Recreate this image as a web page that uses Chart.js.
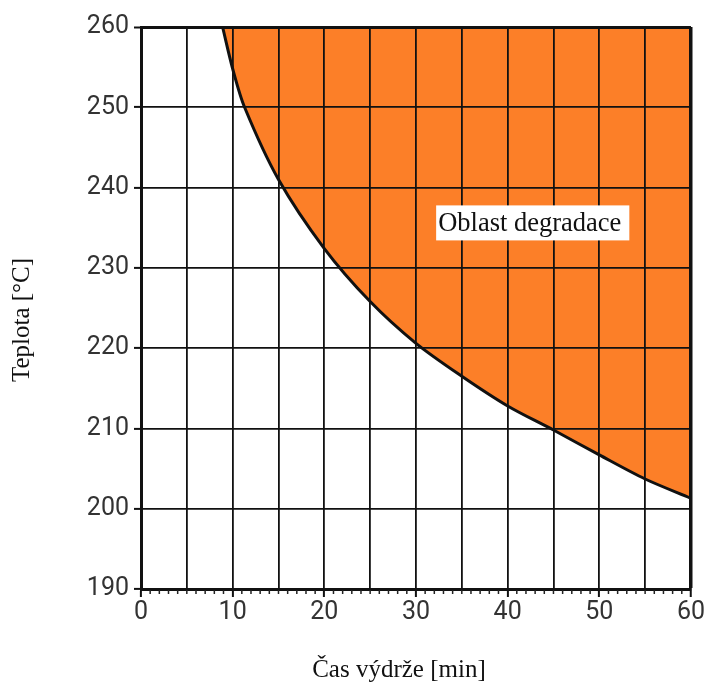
<!DOCTYPE html>
<html>
<head>
<meta charset="utf-8">
<script src="https://cdn.jsdelivr.net/npm/chart.js@4.4.1/dist/chart.umd.min.js"></script>
<style>
  html, body { margin: 0; padding: 0; background: #fff; }
  #wrap { width: 706px; height: 688px; }
</style>
</head>
<body>
<div id="wrap"><canvas id="chart" width="706" height="688"></canvas></div>
<script>
// hranice degradace - cas vydrze vs. teplota
const casMin = [8.9, 10, 11.3, 15, 20, 25, 30, 35, 40, 45, 50, 55, 60];
const teplota = [260, 254.8, 250, 241, 232.4, 225.8, 220.6, 216.5, 212.8, 209.8, 206.7, 203.7, 201.3];

const xTicks = [0, 10, 20, 30, 40, 50, 60];
const yTicks = [190, 200, 210, 220, 230, 240, 250, 260];

const oblastText = 'Oblast degradace';
const xTitle = 'Čas výdrže [min]';
const yTitle = 'Teplota [°C]';

const fillColor = '#fc7f28';
const tickFont = { family: 'Roboto', size: 25 };
const serif = '"Liberation Serif", "Times New Roman", serif';

// drobne carky na ose x po 1 min, popisky os a popisek oblasti
const extrasPlugin = {
  id: 'extras',
  afterDraw(chart) {
    const ctx = chart.ctx;
    const x = chart.scales.x;
    const y = chart.scales.y;
    const area = chart.chartArea;
    ctx.save();
    ctx.strokeStyle = '#222';
    ctx.lineWidth = 1.5;
    for (let i = 0; i <= 60; i++) {
      if (i % 10 == 0) continue;
      const px = x.getPixelForValue(i);
      ctx.beginPath();
      ctx.moveTo(px, y.bottom + 1);
      ctx.lineTo(px, y.bottom + 5);
      ctx.stroke();
    }

    // oblast degradace
    const bx = x.getPixelForValue(32.2);
    const by = y.getPixelForValue(235.6);
    ctx.font = '26.5px ' + serif;
    const w = ctx.measureText(oblastText).width;
    ctx.fillStyle = '#fff';
    ctx.fillRect(bx, by - 17.5, w + 10, 35);
    ctx.fillStyle = '#111';
    ctx.textBaseline = 'middle';
    ctx.textAlign = 'left';
    ctx.fillText(oblastText, bx + 2, by + 1);

    // popisky os
    ctx.font = '25px ' + serif;
    ctx.textAlign = 'center';
    ctx.fillText(xTitle, (area.left + area.right) / 2 - 17, 670);
    ctx.translate(22, (area.top + area.bottom) / 2 + 12);
    ctx.rotate(-Math.PI / 2);
    ctx.fillText(yTitle, 0, 0);
    ctx.restore();
  }
};

const config = {
  type: 'line',
  data: {
    datasets: [{
      data: casMin.map((c, i) => ({ x: c, y: teplota[i] })),
      borderColor: '#111',
      borderWidth: 3,
      backgroundColor: fillColor,
      fill: 'end',
      pointRadius: 0,
      tension: 0.3,
    }]
  },
  options: {
    responsive: false,
    animation: false,
    layout: { padding: { top: 27, right: 15, left: 0, bottom: 0 } },
    plugins: {
      legend: { display: false },
      tooltip: { enabled: false },
    },
    scales: {
      x: {
        type: 'linear',
        min: 0,
        max: 60,
        afterFit(scale) { scale.height = 99; },
        afterBuildTicks(scale) {
          const t = [];
          for (let v = 0; v <= 60; v += 5) t.push({ value: v });
          scale.ticks = t;
        },
        border: { display: true, color: '#111', width: 3, z: 2 },
        grid: {
          z: 1,
          color: '#111',
          lineWidth: (c) => (c.tick && c.tick.value == 60 ? 3.5 : 1.8),
          tickLength: 8,
          tickColor: (c) => (c.tick && c.tick.value % 10 == 0 ? '#111' : 'rgba(0,0,0,0)'),
          tickWidth: 2,
        },
        ticks: {
          autoSkip: false,
          maxRotation: 0,
          padding: 1,
          color: '#333',
          font: tickFont,
          callback: (v) => (xTicks.includes(v) ? String(v) : ''),
        },
      },
      y: {
        type: 'linear',
        min: 190,
        max: 260,
        afterFit(scale) { scale.width = 141; },
        afterBuildTicks(scale) {
          scale.ticks = yTicks.map((v) => ({ value: v }));
        },
        border: { display: true, color: '#111', width: 3, z: 2 },
        grid: {
          z: 1,
          color: '#111',
          lineWidth: (c) => (c.tick && c.tick.value == 260 ? 3 : 1.8),
          tickLength: 7,
          tickWidth: 2,
        },
        ticks: {
          padding: 5,
          color: '#333',
          font: tickFont,
        },
      },
    },
  },
  plugins: [extrasPlugin],
};

const chart = new Chart(document.getElementById('chart'), config);
</script>
</body>
</html>
